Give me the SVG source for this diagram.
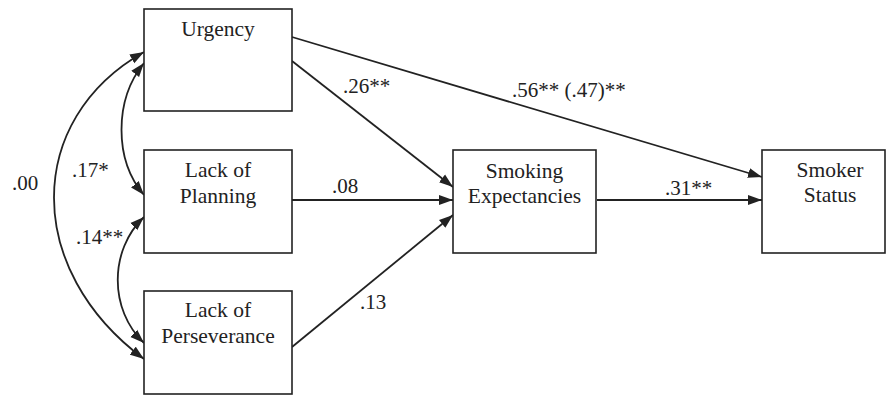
<svg xmlns="http://www.w3.org/2000/svg" width="887" height="397" viewBox="0 0 887 397">
<style>
.box{fill:#fff;stroke:#222;stroke-width:1.6}
text{font-family:'Liberation Serif','Times New Roman','DejaVu Serif',serif;fill:#222}
.t{font-size:21.5px;text-anchor:middle}
.l{font-size:21px}
.c{fill:none;stroke:#222;stroke-width:1.8}
</style>
<defs>
<marker id="ah" markerUnits="userSpaceOnUse" markerWidth="15" markerHeight="11" refX="14" refY="5.5" orient="auto-start-reverse">
<path d="M0,0.5 L14,5.5 L0,10.5 z" fill="#222"/>
</marker>
</defs>
<g id="connectors">
<path class="c" d="M292,37 L762,177" marker-end="url(#ah)"/>
<path class="c" d="M292,61 L453,187" marker-end="url(#ah)"/>
<path class="c" d="M292,200 L453,200" marker-end="url(#ah)"/>
<path class="c" d="M292,347 L453,215" marker-end="url(#ah)"/>
<path class="c" d="M597,200 L762,200" marker-end="url(#ah)"/>
<path class="c" d="M144,52 C24,120 24,270 144,359" marker-start="url(#ah)" marker-end="url(#ah)"/>
<path class="c" d="M144,63 C114,100 114,160 144,195" marker-start="url(#ah)" marker-end="url(#ah)"/>
<path class="c" d="M144,217 C109,250 109,310 144,343" marker-start="url(#ah)" marker-end="url(#ah)"/>
</g>
<g id="urgency">
<rect class="box" x="144" y="9" width="148" height="102"/>
<text class="t" x="218" y="36">Urgency</text>
</g>
<g id="lack-of-planning">
<rect class="box" x="144" y="150" width="148" height="103"/>
<text class="t" x="218" y="177">Lack of</text>
<text class="t" x="218" y="203">Planning</text>
</g>
<g id="lack-of-perseverance">
<rect class="box" x="144" y="291" width="148" height="103"/>
<text class="t" x="218" y="317">Lack of</text>
<text class="t" x="218" y="343">Perseverance</text>
</g>
<g id="smoking-expectancies">
<rect class="box" x="453" y="150" width="143" height="103"/>
<text class="t" x="524.5" y="178">Smoking</text>
<text class="t" x="524.5" y="203">Expectancies</text>
</g>
<g id="smoker-status">
<rect class="box" x="762" y="150" width="123" height="103"/>
<text class="t" x="830" y="177">Smoker</text>
<text class="t" x="830" y="202">Status</text>
</g>
<g id="labels">
<text class="l" x="12" y="190">.00</text>
<text class="l" x="72" y="177">.17*</text>
<text class="l" x="76" y="244">.14**</text>
<text class="l" x="343" y="93">.26**</text>
<text class="l" x="512" y="97">.56** (.47)**</text>
<text class="l" x="332" y="193">.08</text>
<text class="l" x="360" y="309">.13</text>
<text class="l" x="665" y="195">.31**</text>
</g>
</svg>
